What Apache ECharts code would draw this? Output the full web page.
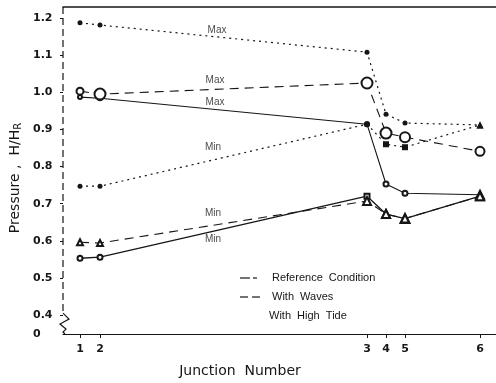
<!DOCTYPE html>
<html><head><meta charset="utf-8">
<script src="https://cdn.jsdelivr.net/npm/echarts@6/dist/echarts.min.js"></script>
<style>html,body{margin:0;padding:0;background:#fff}#c{width:496px;height:383px}</style>
</head><body><div id="c"></div>
<script>
// Junction numbers and their positions along the main (plotted to scale)
const junctions = ['1', '2', '3', '4', '5', '6'];
const junctionPos = [1, 2, 15.35, 16.3, 17.25, 21];

// Pressure axis ticks (H/HR); the axis is broken below 0.4 and ends at "0"
const yTicks = [0.4, 0.5, 0.6, 0.7, 0.8, 0.9, 1.0, 1.1, 1.2];
const yZero = 0.349;

// Reference condition
const refMax = [0.987, 0.984, 0.914, 0.753, 0.728, 0.724];
const refMin = [0.553, 0.556, 0.720, 0.672, 0.660, 0.720];
// With waves
const wavesMax = [1.003, 0.995, 1.025, 0.890, 0.879, 0.841];
const wavesMin = [0.596, 0.594, 0.707, 0.672, 0.660, 0.720];
// With high tide
const tideMax = [1.187, 1.181, 1.108, 0.941, 0.917, 0.912];
const tideMin = [0.747, 0.747, 0.914, 0.860, 0.852, 0.912];

// Curve captions: [position, pressure, text]
const captions = [
  [7.85, 1.168, 'Max'],
  [7.75, 1.033, 'Max'],
  [7.75, 0.974, 'Max'],
  [7.65, 0.852, 'Min'],
  [7.65, 0.674, 'Min'],
  [7.65, 0.604, 'Min']
];

const INK = '#161616';
const FONT = 'Liberation Sans';

function pts(vals, symbols, sizes) {
  return vals.map((v, i) => ({
    value: [junctionPos[i], v],
    symbol: symbols[i],
    symbolSize: sizes[i]
  }));
}

function curve(name, vals, dash, width, symbols, sizes) {
  return {
    name, type: 'line',
    data: pts(vals, symbols, sizes),
    lineStyle: { color: INK, width, type: dash },
    itemStyle: { color: INK, borderWidth: 1 },
    emphasis: { disabled: true },
    z: 3
  };
}

const chart = echarts.init(document.getElementById('c'), null, { renderer: 'canvas' });

const option = {
  animation: false,
  backgroundColor: '#fff',
  grid: { left: 63, right: 0, top: 7, bottom: 49, containLabel: false },
  xAxis: [{
    type: 'value', min: 0.15, max: 21.8,
    axisLine: { lineStyle: { color: INK, width: 1.2 } },
    axisTick: { customValues: junctionPos, length: 4, lineStyle: { color: INK } },
    axisLabel: {
      customValues: junctionPos, margin: 10, color: INK,
      fontFamily: 'DejaVu Sans', fontWeight: 'bold', fontSize: 11,
      formatter: v => {
        const i = junctionPos.findIndex(p => Math.abs(p - v) < 1e-6);
        return i >= 0 ? junctions[i] : '';
      }
    },
    splitLine: { show: false }
  }, {
    type: 'value', position: 'top', min: 0.15, max: 21.8,
    axisLine: { show: true, onZero: false, lineStyle: { color: INK, width: 1.5 } },
    axisTick: { show: false }, axisLabel: { show: false }, splitLine: { show: false }
  }],
  yAxis: {
    type: 'value', min: yZero, max: 1.2296,
    axisLine: { show: false },
    axisTick: { show: true, customValues: yTicks, inside: false, length: 3, lineStyle: { color: INK } },
    axisLabel: {
      customValues: [yZero].concat(yTicks), align: 'left', margin: 30, color: INK,
      fontFamily: 'DejaVu Sans', fontWeight: 'bold', fontSize: 11,
      formatter: v => (v < 0.39 ? '0' : v.toFixed(1))
    },
    splitLine: { show: false }
  },
  series: [
    curve('Reference Condition Max', refMax, 'solid', 1.1,
      ['emptyCircle', 'emptyCircle', 'circle', 'emptyCircle', 'emptyCircle', 'emptyTriangle'],
      [4, 4, 6, 5, 5, 8]),
    curve('Reference Condition Min', refMin, 'solid', 1.3,
      ['emptyCircle', 'emptyCircle', 'emptyRect', 'emptyTriangle', 'emptyTriangle', 'emptyTriangle'],
      [5, 5, 5, 8, 9, 8]),
    curve('With Waves Max', wavesMax, [9, 6], 1.1,
      ['emptyCircle', 'emptyCircle', 'emptyCircle', 'emptyCircle', 'emptyCircle', 'emptyCircle'],
      [7, 11, 11, 11, 10, 9]),
    curve('With Waves Min', wavesMin, [9, 6], 1.1,
      ['emptyTriangle', 'emptyTriangle', 'emptyTriangle', 'emptyTriangle', 'emptyTriangle', 'emptyTriangle'],
      [6, 6, 8, 8, 8, 8]),
    curve('With High Tide Max', tideMax, [2, 4], 1.2,
      ['circle', 'circle', 'circle', 'circle', 'circle', 'triangle'],
      [5, 5, 5, 5, 5, 7]),
    curve('With High Tide Min', tideMin, [2, 4], 1.2,
      ['circle', 'circle', 'circle', 'rect', 'rect', 'triangle'],
      [5, 5, 6, 6, 6, 7]),
    {
      name: 'captions', type: 'scatter', symbolSize: 0, z: 4,
      data: captions.map(c => ({ value: [c[0], c[1]], name: c[2] })),
      label: {
        show: true, position: 'inside', formatter: p => p.name,
        color: INK, fontFamily: FONT, fontSize: 10
      },
      emphasis: { disabled: true }
    }
  ]
};
chart.setOption(option);

// Broken pressure axis, titles and legend key
const ax = chart.convertToPixel({ gridIndex: 0 }, [0.15, 1.2296])[0];
const yTop = chart.convertToPixel({ gridIndex: 0 }, [0.15, 1.2296])[1];
const y04 = chart.convertToPixel({ gridIndex: 0 }, [0.15, 0.4])[1];
const yBot = chart.convertToPixel({ gridIndex: 0 }, [0.15, yZero])[1];

const legendRows = [
  { text: 'Reference  Condition', y: 278, dash: [[240, 250], [253, 257]] },
  { text: 'With  Waves', y: 297, dash: [[240, 248], [252, 260]] },
  { text: 'With  High  Tide', y: 316, dash: [] }
];

const graphics = [
  { type: 'line', shape: { x1: ax, y1: yTop, x2: ax, y2: y04 - 2 },
    style: { stroke: INK, lineWidth: 1.2, lineDash: [7, 4] } },
  { type: 'polyline', shape: { points: [[ax, y04 - 2], [ax + 6, y04 + 4], [ax - 3, y04 + 9], [ax + 3, y04 + 14], [ax, yBot - 2], [ax + 2, yBot]] },
    style: { stroke: INK, lineWidth: 1.2, fill: null } },
  { type: 'text', x: 15, y: 178, rotation: Math.PI / 2,
    style: { text: 'Pressure ,  H/H{s|R}', fontFamily: 'DejaVu Sans', fontSize: 14, fill: INK,
      align: 'center', verticalAlign: 'middle',
      rich: { s: { fontFamily: 'DejaVu Sans', fontSize: 10, fill: INK, padding: [6, 0, 0, 0] } } } },
  { type: 'text', x: 240, y: 371,
    style: { text: 'Junction  Number', fontFamily: 'DejaVu Sans', fontSize: 14, fill: INK,
      align: 'center', verticalAlign: 'middle' } }
];
legendRows.forEach(r => {
  r.dash.forEach(d => graphics.push({ type: 'line',
    shape: { x1: d[0], y1: r.y, x2: d[1], y2: r.y }, style: { stroke: INK, lineWidth: 1.2 } }));
  graphics.push({ type: 'text', x: r.dash.length ? 272 : 269, y: r.y,
    style: { text: r.text, fontFamily: FONT, fontSize: 11, fill: INK, verticalAlign: 'middle' } });
});
chart.setOption({ graphic: graphics });
</script>
</body></html>
